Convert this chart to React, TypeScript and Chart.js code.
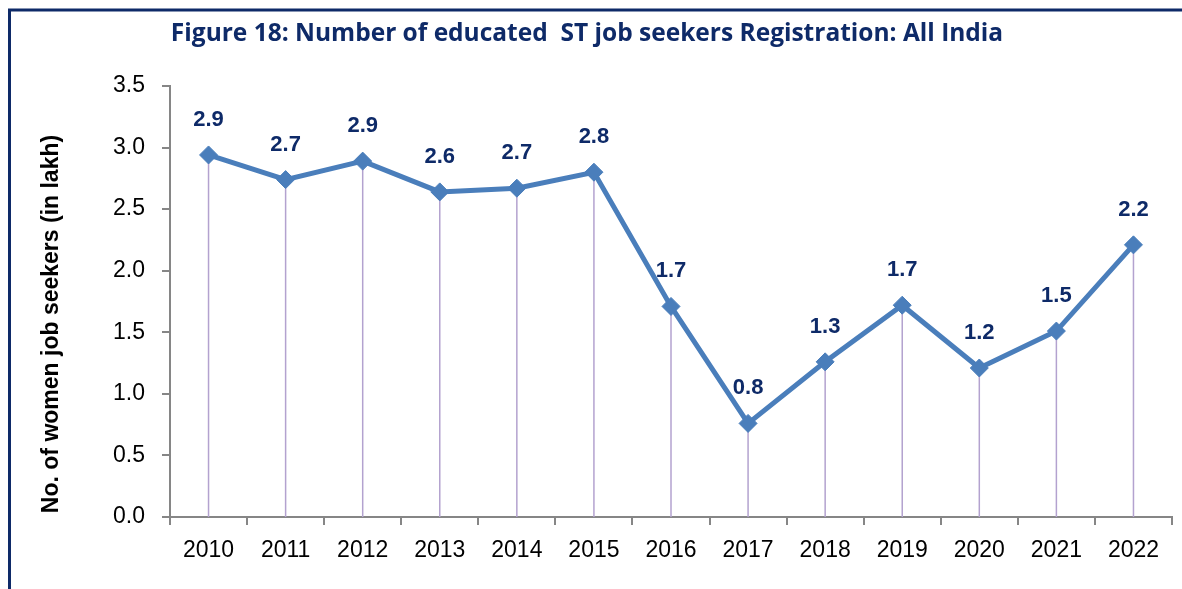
import React, { useEffect, useRef } from "react";
import { Chart, registerables } from "chart.js";

Chart.register(...registerables);

const years = ["2010", "2011", "2012", "2013", "2014", "2015", "2016", "2017", "2018", "2019", "2020", "2021", "2022"];
const seekers = [2.94, 2.74, 2.89, 2.64, 2.67, 2.8, 1.71, 0.76, 1.26, 1.72, 1.21, 1.51, 2.21];
const pointLabels = ["2.9", "2.7", "2.9", "2.6", "2.7", "2.8", "1.7", "0.8", "1.3", "1.7", "1.2", "1.5", "2.2"];
const yTicks = [0, 0.5, 1, 1.5, 2, 2.5, 3, 3.5];

const titleText = "Figure 18: Number of educated  ST job seekers Registration: All India";
const yTitleText = "No. of women job seekers (in lakh)";

const NAVY = "#0e2a68";
const LINE = "#4a7ebb";

const decorPlugin = {
  id: "decor",
  beforeDatasetsDraw(chart: any) {
    const ctx = chart.ctx;
    const meta = chart.getDatasetMeta(0);
    const bottom = chart.chartArea.bottom;
    ctx.save();
    ctx.strokeStyle = "#b3a2cf";
    ctx.lineWidth = 1.5;
    meta.data.forEach((pt: any) => {
      ctx.beginPath();
      ctx.moveTo(pt.x, pt.y);
      ctx.lineTo(pt.x, bottom);
      ctx.stroke();
    });
    ctx.restore();
  },
  afterDraw(chart: any) {
    const ctx = chart.ctx;
    ctx.save();
    // frame
    ctx.strokeStyle = NAVY;
    ctx.lineWidth = 3;
    ctx.beginPath();
    ctx.moveTo(9.5, chart.height);
    ctx.lineTo(9.5, 10);
    ctx.lineTo(chart.width, 10);
    ctx.stroke();
    // title
    ctx.fillStyle = NAVY;
    ctx.font = "bold 24.5px 'Open Sans'";
    ctx.textAlign = "center";
    ctx.textBaseline = "middle";
    ctx.fillText(titleText, 587, 34);
    // y title
    ctx.save();
    ctx.translate(52, 324);
    ctx.rotate(-Math.PI / 2);
    ctx.fillStyle = "#000";
    ctx.font = "bold 23px 'Liberation Sans'";
    ctx.fillText(yTitleText, 0, 0);
    ctx.restore();
    // data labels
    const meta = chart.getDatasetMeta(0);
    ctx.fillStyle = NAVY;
    ctx.font = "bold 22px 'Liberation Sans'";
    meta.data.forEach((pt: any, i: number) => {
      ctx.fillText(pointLabels[i], pt.x, pt.y - 35);
    });
    ctx.restore();
  },
};

export default function App() {
  const ref = useRef<HTMLCanvasElement>(null);
  useEffect(() => {
    document.body.style.margin = "0";
    const chart = new Chart(ref.current!, {
      type: "line",
      data: {
        labels: years,
        datasets: [
          {
            data: seekers,
            borderColor: LINE,
            backgroundColor: LINE,
            borderWidth: 5,
            pointStyle: "rectRot",
            pointRadius: 9,
            pointBorderWidth: 1,
            tension: 0,
          },
        ],
      },
      options: {
        responsive: false,
        animation: false,
        layout: { padding: { left: 0, right: 2, top: 86, bottom: 0 } },
        plugins: { legend: { display: false }, tooltip: { enabled: false }, title: { display: false } },
        scales: {
          x: {
            offset: true,
            afterFit: (s: any) => {
              s.height = 72;
            },
            grid: { display: true, drawOnChartArea: false, offset: true, tickLength: 8, color: "#868686", lineWidth: 2 },
            border: { color: "#868686", width: 2 },
            ticks: { color: "#000", font: { family: "'Liberation Sans'", size: 23 }, padding: 12, maxRotation: 0 },
          },
          y: {
            min: 0,
            max: 3.5,
            afterFit: (s: any) => {
              s.width = 170;
            },
            afterBuildTicks: (s: any) => {
              s.ticks = yTicks.map((v) => ({ value: v }));
            },
            grid: { display: true, drawOnChartArea: false, tickLength: 8, color: "#868686", lineWidth: 2 },
            border: { color: "#868686", width: 2 },
            ticks: {
              color: "#000",
              font: { family: "'Liberation Sans'", size: 23 },
              padding: 17,
              callback: (v: any) => Number(v).toFixed(1),
            },
          },
        },
      },
      plugins: [decorPlugin],
    });
    return () => chart.destroy();
  }, []);
  return (
    <div style={{ position: "absolute", left: 0, top: 0, width: 1182, height: 589, background: "#fff" }}>
      <canvas ref={ref} width={1182} height={589} />
    </div>
  );
}
